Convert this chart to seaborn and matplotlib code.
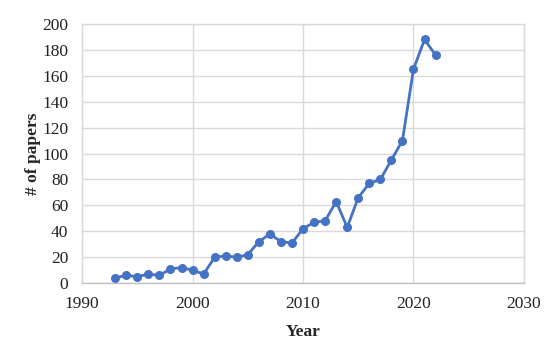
import matplotlib
matplotlib.use('Agg')
import matplotlib.pyplot as plt
import seaborn as sns

# values
years = [1993, 1994, 1995, 1996, 1997, 1998, 1999, 2000, 2001, 2002,
         2003, 2004, 2005, 2006, 2007, 2008, 2009, 2010, 2011, 2012,
         2013, 2014, 2015, 2016, 2017, 2018, 2019, 2020, 2021, 2022]
papers = [4, 6, 5, 7, 6, 11, 12, 10, 7, 20,
          21, 20, 22, 32, 38, 32, 31, 42, 47, 48,
          63, 43, 66, 77, 80, 95, 110, 165, 188, 176]
x_ticks = [1990, 2000, 2010, 2020, 2030]
y_ticks = list(range(0, 201, 20))

sns.set_style('white')
plt.rcParams['font.family'] = ['Liberation Serif', 'DejaVu Serif']

fig = plt.figure(figsize=(5.55, 3.47), dpi=100)
ax = fig.add_axes([0.148, 0.184, 0.796, 0.747])

sns.lineplot(x=years, y=papers, ax=ax, color='#4472C4', linewidth=2,
             marker='o', markersize=6.5, markeredgewidth=0, zorder=3)

ax.set_xlim(1990, 2030)
ax.set_ylim(0, 200)
ax.set_xticks(x_ticks)
ax.set_yticks(y_ticks)
ax.grid(True, color='#D9D9D9', linewidth=1)
for s in ax.spines.values():
    s.set_color('#D9D9D9')
    s.set_linewidth(1)
ax.spines['bottom'].set_color('#BFBFBF')
ax.tick_params(axis='y', length=0, labelsize=12.5, pad=10, colors='#222222')
ax.tick_params(axis='x', length=0, labelsize=12.5, pad=9, colors='#222222')
ax.set_xlabel('Year', fontsize=12.5, fontweight='bold', labelpad=9)
ax.set_ylabel('# of papers', fontsize=12.5, fontweight='bold', labelpad=1)

fig.savefig('out.png', dpi=100)
